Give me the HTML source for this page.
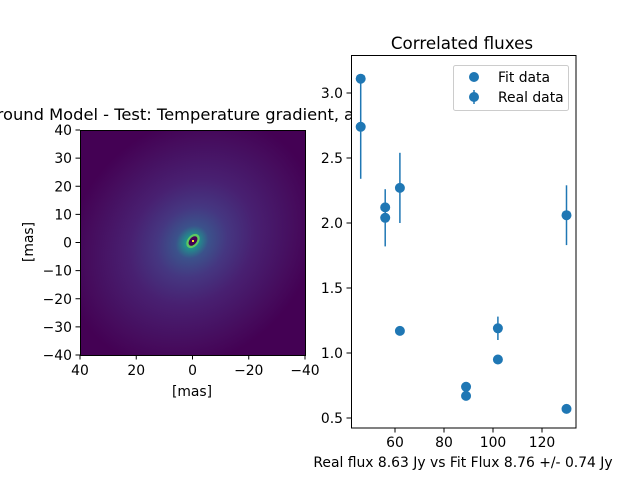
<!DOCTYPE html>
<html><head><meta charset="utf-8"><style>
html,body{margin:0;padding:0;background:#fff;width:640px;height:480px;overflow:hidden}
svg text{font-family:"DejaVu Sans","Liberation Sans",sans-serif;fill:#000}
</style></head><body>
<svg id="fig" width="640" height="480" viewBox="0 0 640 480" xmlns="http://www.w3.org/2000/svg">
<defs>
<radialGradient id="halo" cx="0.5" cy="0.5" r="0.5">
<stop offset="0" stop-color="#35b779"/>
<stop offset="0.05" stop-color="#21918c"/>
<stop offset="0.13" stop-color="#3b528b"/>
<stop offset="0.28" stop-color="#453781"/>
<stop offset="0.5" stop-color="#482071"/>
<stop offset="0.8" stop-color="#460e5f"/>
<stop offset="1" stop-color="#440154"/>
</radialGradient>
<clipPath id="imgclip"><rect x="80" y="130" width="225" height="225"/></clipPath>
</defs>
<rect width="640" height="480" fill="#fff"/>
<text x="339" y="120" font-size="16.3" text-anchor="end">Background Model - Test: Temperature gradient,</text>
<text x="344" y="120" font-size="16.3">a...</text>
<g clip-path="url(#imgclip)">
<rect x="80" y="130" width="225" height="225" fill="#440154"/>
<ellipse cx="192" cy="242" rx="135" ry="115" transform="rotate(-45 192 242)" fill="url(#halo)"/>
<ellipse cx="193" cy="241" rx="8" ry="5.5" transform="rotate(-50 193 241)" fill="#5ec962"/>
<ellipse cx="193" cy="241" rx="5.5" ry="3.5" transform="rotate(-50 193 241)" fill="#440154"/>
<rect x="192" y="240" width="2" height="2" fill="#fde725"/>
</g>
<rect x="80.5" y="130.5" width="225" height="225" fill="none" stroke="#000" stroke-width="1"/>
<g id="leftTicks"></g>
<text x="192" y="396" font-size="13.9" text-anchor="middle">[mas]</text>
<text transform="translate(33 242) rotate(-90)" font-size="13.9" text-anchor="middle">[mas]</text>

<rect x="351" y="55" width="225" height="373" fill="#fff"/>
<text x="462" y="49" font-size="16.7" text-anchor="middle">Correlated fluxes</text>
<g id="rightTicks"></g>
<g id="marks"></g>
<rect x="351.5" y="55.5" width="224.5" height="372.5" fill="none" stroke="#000" stroke-width="1"/>
<text x="463" y="467" font-size="13.9" text-anchor="middle">Real flux 8.63 Jy vs Fit Flux 8.76 +/- 0.74 Jy</text>
<g>
<rect x="453.5" y="65.5" width="115" height="45" rx="2" fill="#fff" fill-opacity="0.8" stroke="#ccc"/>
<circle cx="474" cy="77" r="5" fill="#1f77b4"/>
<text x="498" y="82" font-size="13.9">Fit data</text>
<line x1="474" y1="90" x2="474" y2="104" stroke="#1f77b4" stroke-width="1.5"/>
<circle cx="474" cy="97" r="5" fill="#1f77b4"/>
<text x="498" y="102" font-size="13.9">Real data</text>
</g>
</svg>
<script>
const baselines = [46, 56, 62, 89, 102, 130];
const fitFlux = [3.11, 2.12, 1.17, 0.74, 0.95, 0.57];
const realFlux = [2.74, 2.04, 2.27, 0.67, 1.19, 2.06];
const realErr = [0.40, 0.22, 0.27, 0.0, 0.09, 0.23];
const xTicks = [60, 80, 100, 120];
const yTicks = [0.5, 1.0, 1.5, 2.0, 2.5, 3.0];
const imgXTicks = [40, 20, 0, -20, -40];
const imgYTicks = [40, 30, 20, 10, 0, -10, -20, -30, -40];

const NS = "http://www.w3.org/2000/svg";
function mk(tag, attrs, parent){const e=document.createElementNS(NS,tag);for(const k in attrs)e.setAttribute(k,attrs[k]);parent.appendChild(e);return e;}
const xs = v => 395 + (v - 60) * 2.45;
const ys = v => 418 - (v - 0.5) * 130;
const ix = v => 80 + (40 - v) * 225 / 80;
const iy = v => 130 + (40 - v) * 225 / 80;
const fmt = t => t < 0 ? '\u2212' + (-t) : String(t);

const lt = document.getElementById('leftTicks');
imgXTicks.forEach(t => {
  let l = mk('line',{x1:ix(t),x2:ix(t),y1:355,y2:359.5,stroke:'#000'},lt);
  
  
  let tx = mk('text',{x:ix(t),y:375,'font-size':13.9,'text-anchor':'middle'},lt);
  tx.textContent = fmt(t);
  
  
});
imgYTicks.forEach(t => {
  let l2 = mk('line',{x1:75.5,x2:80,y1:iy(t),y2:iy(t),stroke:'#000'},lt);
  
  
  let ty = mk('text',{x:72,y:iy(t)+5,'font-size':13.9,'text-anchor':'end'},lt);
  ty.textContent = fmt(t);
  
  
});

const rt = document.getElementById('rightTicks');
xTicks.forEach(t => {
  let l = mk('line',{x1:xs(t),x2:xs(t),y1:428,y2:432.5,stroke:'#000'},rt);
  
  
  let tx = mk('text',{x:xs(t),y:447,'font-size':13.9,'text-anchor':'middle'},rt);
  tx.textContent = String(t);
  
  
});
yTicks.forEach(t => {
  let l = mk('line',{x1:346.5,x2:351,y1:ys(t),y2:ys(t),stroke:'#000'},rt);
  
  
  let ty = mk('text',{x:343,y:ys(t)+5,'font-size':13.9,'text-anchor':'end'},rt);
  ty.textContent = t.toFixed(1);
  
  
});

const mg = document.getElementById('marks');
baselines.forEach((b,i) => {
  let p = mk('circle',{cx:xs(b),cy:ys(fitFlux[i]),r:5,fill:'#1f77b4'},mg);
  
  
});
baselines.forEach((b,i) => {
  let e = mk('line',{x1:xs(b),x2:xs(b),y1:ys(realFlux[i]-realErr[i]),y2:ys(realFlux[i]+realErr[i]),stroke:'#1f77b4','stroke-width':1.5},mg);
  
  
  let p = mk('circle',{cx:xs(b),cy:ys(realFlux[i]),r:5,fill:'#1f77b4'},mg);
  
  
});
</script>
</body></html>
